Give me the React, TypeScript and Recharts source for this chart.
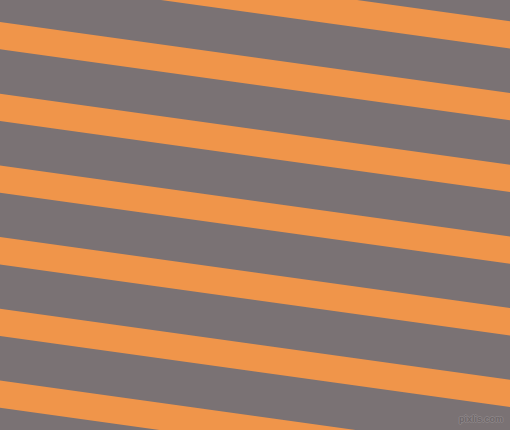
import React from "react";
import { ComposedChart, Area, XAxis, YAxis } from "recharts";

// Stripe edges (pixel units, y grows downward)
const edgeX = [0, 510];
const leftTop = [-49.7, 22, 93.7, 165.4, 237.1, 308.8, 380.5];
const rightTop = [21.3, 93, 164.7, 236.4, 308.1, 379.8, 451.5];
const bandHeight = 27.3;
const watermark = "pixlis.com";

const data = edgeX.map((x, i) => {
  const row: Record<string, number | number[]> = { x };
  const tops = i === 0 ? leftTop : rightTop;
  tops.forEach((t, k) => {
    row[`s${k}`] = [t, t + bandHeight];
  });
  return row;
});

const GRAY = "#7a7274";
const ORANGE = "#f0954a";

export default function App() {
  return (
    <div
      style={{
        position: "fixed",
        left: 0,
        top: 0,
        width: 510,
        height: 430,
        overflow: "hidden",
        background: GRAY,
      }}
    >
      <ComposedChart
        width={510}
        height={430}
        data={data}
        margin={{ top: 0, right: 0, bottom: 0, left: 0 }}
      >
        <XAxis dataKey="x" type="number" domain={[0, 510]} hide allowDataOverflow />
        <YAxis type="number" domain={[0, 430]} reversed hide allowDataOverflow width={0} />
        {leftTop.map((_, k) => (
          <Area
            key={k}
            dataKey={`s${k}`}
            type="linear"
            stroke="none"
            fill={ORANGE}
            fillOpacity={1}
            isAnimationActive={false}
            activeDot={false}
            dot={false}
          />
        ))}
      </ComposedChart>
      <div
        style={{
          position: "absolute",
          right: 7,
          bottom: 6,
          fontFamily: "'Liberation Sans', Arial, sans-serif",
          fontSize: 9,
          lineHeight: "9px",
          fontWeight: "bold",
          color: "#6e6769",
          textShadow:
            "1px 0 0 #8c8587, -1px 0 0 #8c8587, 0 1px 0 #8c8587, 0 -1px 0 #8c8587",
        }}
      >
        {watermark}
      </div>
    </div>
  );
}
